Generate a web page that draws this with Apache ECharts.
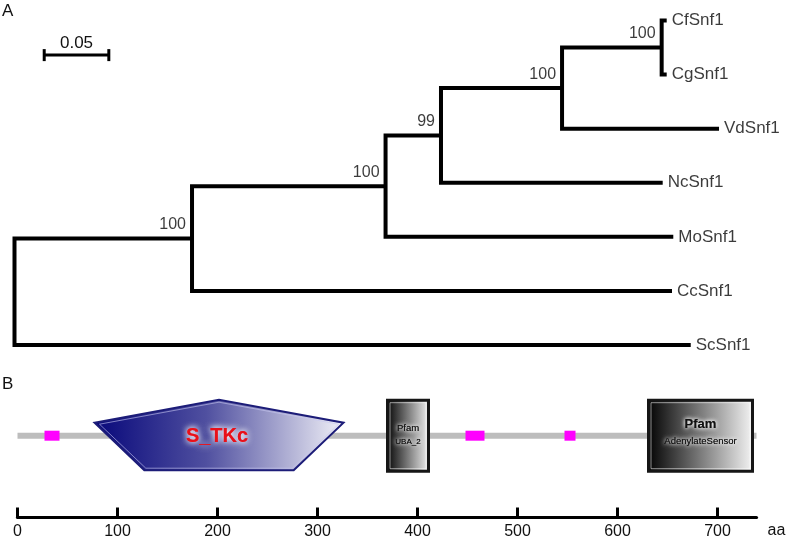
<!DOCTYPE html>
<html><head><meta charset="utf-8">
<script src="https://cdn.jsdelivr.net/npm/echarts@6/dist/echarts.min.js"></script>
<style>html,body{margin:0;padding:0;background:#fff}#c{width:787px;height:540px}</style>
</head><body><div id="c"></div>
<script>
// ---------- Panel A: phylogenetic tree data ----------
const leafNames = ['CfSnf1', 'CgSnf1', 'VdSnf1', 'NcSnf1', 'MoSnf1', 'CcSnf1', 'ScSnf1'];
const leafDepths = [0.5048, 0.5048, 0.5453, 0.5017, 0.5099, 0.5089, 0.5234];
const nodeIds = ['E', 'D', 'C', 'B', 'A', 'root'];
const nodeDepths = [0.5009, 0.4238, 0.3301, 0.2872, 0.1374, 0];
const nodeChildren = [['CfSnf1', 'CgSnf1'], ['E', 'VdSnf1'], ['D', 'NcSnf1'], ['C', 'MoSnf1'], ['B', 'CcSnf1'], ['A', 'ScSnf1']];
const bootstrapValues = [100, 100, 99, 100, 100, null];
const scaleBarLength = 0.05;
const scaleBarLabel = '0.05';

// ---------- Panel B: domain architecture data ----------
const proteinLength = 739;
const lcrStarts = [27, 448, 547];
const lcrEnds = [42, 467, 558];
const domainNames = ['S_TKc', 'UBA_2', 'AdenylateSensor'];
const domainSources = ['SMART', 'Pfam', 'Pfam'];
const domainStarts = [77, 370, 631];
const domainEnds = [326, 411, 735];
const aaTicks = [0, 100, 200, 300, 400, 500, 600, 700];

// ---------- layout constants ----------
const FONT = '"Liberation Sans", Arial, Helvetica, sans-serif';
const scaleBarX = 0.023, scaleBarRow = 0.64;

// build tree geometry in data units (depth, row)
const pos = {};
leafNames.forEach((n, i) => { pos[n] = { x: leafDepths[i], y: i }; });
nodeIds.forEach((id, i) => {
  const ch = nodeChildren[i];
  pos[id] = { x: nodeDepths[i], y: (pos[ch[0]].y + pos[ch[ch.length - 1]].y) / 2 };
});
// one item per internal node: [nodeDepth, child0Depth, child0Row, child1Depth, child1Row]
const nodeData = nodeIds.map((id, i) => {
  const c0 = pos[nodeChildren[i][0]], c1 = pos[nodeChildren[i][1]];
  return [pos[id].x, c0.x, c0.y, c1.x, c1.y];
});
const leafLabelData = leafNames.map((n, i) => [leafDepths[i], i, n]);
const bootData = [];
nodeIds.forEach((id, i) => {
  if (bootstrapValues[i] != null) bootData.push([pos[id].x, pos[id].y, bootstrapValues[i]]);
});

const chart = echarts.init(document.getElementById('c'), null, { renderer: 'canvas' });

// glowing text: two stacked copies with a white shadow
function glowText(text, x, y, font, fill, blur) {
  const st = { text: text, x: x, y: y, align: 'center', verticalAlign: 'middle', font: font, fill: fill,
    textShadowColor: '#ffffff', textShadowBlur: blur };
  return [{ type: 'text', style: Object.assign({}, st) }, { type: 'text', style: Object.assign({}, st) }];
}

const option = {
  animation: false,
  backgroundColor: '#fff',
  grid: [
    { left: 14.5, top: 20.5, width: 0.59 * 1292, height: 324.5 },
    { left: 17.5, top: 353.9, width: 739, height: 163.6 }
  ],
  xAxis: [
    { gridIndex: 0, type: 'value', min: 0, max: 0.59, show: false },
    {
      gridIndex: 1, type: 'value', min: 0, max: proteinLength,
      name: 'aa', nameLocation: 'end', nameGap: 11,
      nameTextStyle: { fontFamily: FONT, fontSize: 16, color: '#111', verticalAlign: 'top', align: 'left', padding: [5, 0, 0, 0] },
      splitLine: { show: false },
      axisLine: { show: true, lineStyle: { color: '#000', width: 3.2 } },
      axisTick: { show: true, inside: true, length: 10, lineStyle: { color: '#000', width: 3 }, customValues: aaTicks },
      axisLabel: { show: true, margin: 6, fontFamily: FONT, fontSize: 16, color: '#111', customValues: aaTicks }
    }
  ],
  yAxis: [
    { gridIndex: 0, type: 'value', min: 0, max: leafNames.length - 1, inverse: true, show: false },
    { gridIndex: 1, type: 'value', min: 0, max: 1, show: false }
  ],
  graphic: [
    { type: 'text', left: 2, top: 2.5, style: { text: 'A', font: '17px ' + FONT, fill: '#111' } },
    { type: 'text', left: 2, top: 375.5, style: { text: 'B', font: '17px ' + FONT, fill: '#111' } }
  ],
  series: [
    // tree: one bracket per internal node
    {
      type: 'custom', xAxisIndex: 0, yAxisIndex: 0, data: nodeData, silent: true, clip: false,
      encode: { x: [0, 1, 3], y: [2, 4] },
      renderItem: (params, api) => {
        const nx = api.value(0);
        const pts = [
          api.coord([api.value(1), api.value(2)]),
          api.coord([nx, api.value(2)]),
          api.coord([nx, api.value(4)]),
          api.coord([api.value(3), api.value(4)])
        ];
        return { type: 'polyline', shape: { points: pts },
          style: { stroke: '#000', lineWidth: 4, fill: null, lineJoin: 'miter', lineCap: 'butt' } };
      }
    },
    // scale bar
    {
      type: 'custom', xAxisIndex: 0, yAxisIndex: 0, silent: true, clip: false,
      data: [[scaleBarX, scaleBarRow, scaleBarX + scaleBarLength]],
      encode: { x: [0, 2], y: 1 },
      renderItem: (params, api) => {
        const a = api.coord([api.value(0), api.value(1)]);
        const b = api.coord([api.value(2), api.value(1)]);
        const st = { stroke: '#000', lineWidth: 3 };
        return { type: 'group', children: [
          { type: 'line', shape: { x1: a[0], y1: a[1], x2: b[0], y2: b[1] }, style: st },
          { type: 'line', shape: { x1: a[0], y1: a[1] - 6, x2: a[0], y2: a[1] + 6 }, style: st },
          { type: 'line', shape: { x1: b[0], y1: b[1] - 6, x2: b[0], y2: b[1] + 6 }, style: st },
          { type: 'text', style: { text: scaleBarLabel, x: (a[0] + b[0]) / 2, y: a[1] - 11.5,
            align: 'center', verticalAlign: 'middle', font: '17px ' + FONT, fill: '#111' } }
        ] };
      }
    },
    // leaf labels
    {
      type: 'scatter', xAxisIndex: 0, yAxisIndex: 0, symbolSize: 0, silent: true,
      data: leafLabelData,
      label: { show: true, position: 'right', distance: 5, formatter: p => p.value[2],
        fontFamily: FONT, fontSize: 17, color: '#0a0a0a' }
    },
    // bootstrap labels
    {
      type: 'scatter', xAxisIndex: 0, yAxisIndex: 0, symbolSize: 0, silent: true,
      data: bootData,
      label: { show: true, position: [-6, -5.5], align: 'right', verticalAlign: 'bottom',
        formatter: p => String(p.value[2]), fontFamily: FONT, fontSize: 16, color: '#0a0a0a' }
    },
    // protein backbone
    {
      type: 'custom', xAxisIndex: 1, yAxisIndex: 1, silent: true, clip: false,
      data: [[0, proteinLength, 0.5]], encode: { x: [0, 1], y: 2 },
      renderItem: (params, api) => {
        const a = api.coord([api.value(0), api.value(2)]);
        const b = api.coord([api.value(1), api.value(2)]);
        return { type: 'rect', shape: { x: a[0], y: a[1] - 3, width: b[0] - a[0], height: 6 },
          style: { fill: '#bdbdbd' } };
      }
    },
    // low complexity regions
    {
      type: 'custom', xAxisIndex: 1, yAxisIndex: 1, silent: true, clip: false,
      data: lcrStarts.map((s, i) => [s, lcrEnds[i], 0.5]), encode: { x: [0, 1], y: 2 },
      renderItem: (params, api) => {
        const a = api.coord([api.value(0), api.value(2)]);
        const b = api.coord([api.value(1), api.value(2)]);
        return { type: 'rect', shape: { x: a[0], y: a[1] - 5, width: b[0] - a[0], height: 10 },
          style: { fill: '#ff00ff' } };
      }
    },
    // domains
    {
      type: 'custom', xAxisIndex: 1, yAxisIndex: 1, silent: true, clip: false,
      data: domainStarts.map((s, i) => [s, domainEnds[i], 0.5, i]), encode: { x: [0, 1], y: 2 },
      renderItem: (params, api) => {
        const i = api.value(3);
        const a = api.coord([api.value(0), api.value(2)]);
        const b = api.coord([api.value(1), api.value(2)]);
        const x0 = a[0], x1 = b[0], cy = a[1], w = x1 - x0, cx = (x0 + x1) / 2;
        if (domainSources[i] === 'SMART') {
          const inset = w * 0.2;
          const pts = [[x0, cy - 13], [cx, cy - 36], [x1, cy - 13], [x1 - inset, cy + 34.5], [x0 + inset, cy + 34.5]];
          const ipts = [[x0 + 5, cy - 11.5], [cx, cy - 33.5], [x1 - 5, cy - 11.5], [x1 - inset - 1.5, cy + 32.5], [x0 + inset + 1.5, cy + 32.5]];
          return { type: 'group', children: [
            { type: 'polygon', shape: { points: pts },
              style: { fill: new echarts.graphic.LinearGradient(0, 0, 1, 0, [
                { offset: 0, color: '#07077a' }, { offset: 0.45, color: '#5050a0' }, { offset: 1, color: '#f2f2f8' }]),
                stroke: '#1c1c78', lineWidth: 2 } },
            { type: 'polygon', shape: { points: ipts },
              style: { fill: null, stroke: 'rgba(200,200,240,0.6)', lineWidth: 1 } }
          ].concat(glowText(domainNames[i], cx - 2, cy + 1, 'bold 20px ' + FONT, '#e8101a', 6)) };
        }
        const small = w < 60;
        return { type: 'group', children: [
          { type: 'rect', shape: { x: x0, y: cy - 35.5, width: w, height: 71 },
            style: { fill: new echarts.graphic.LinearGradient(0, 0, 1, 0, [
              { offset: 0, color: '#000000' }, { offset: 1, color: '#f6f6f6' }]),
              stroke: '#161616', lineWidth: 3 } },
          { type: 'rect', shape: { x: x0 + 2.5, y: cy - 33, width: w - 5, height: 66 },
            style: { fill: null, stroke: 'rgba(255,255,255,0.55)', lineWidth: 1 } }
        ].concat(
          glowText(domainSources[i], cx, small ? cy - 7 : cy - 11, (small ? '9.5px ' : 'bold 13px ') + FONT, '#111', 4),
          glowText(domainNames[i], cx, cy + 6, (small ? '8px ' : '9.5px ') + FONT, '#111', 4)
        ) };
      }
    }
  ]
};
chart.setOption(option);
</script>
</body></html>
